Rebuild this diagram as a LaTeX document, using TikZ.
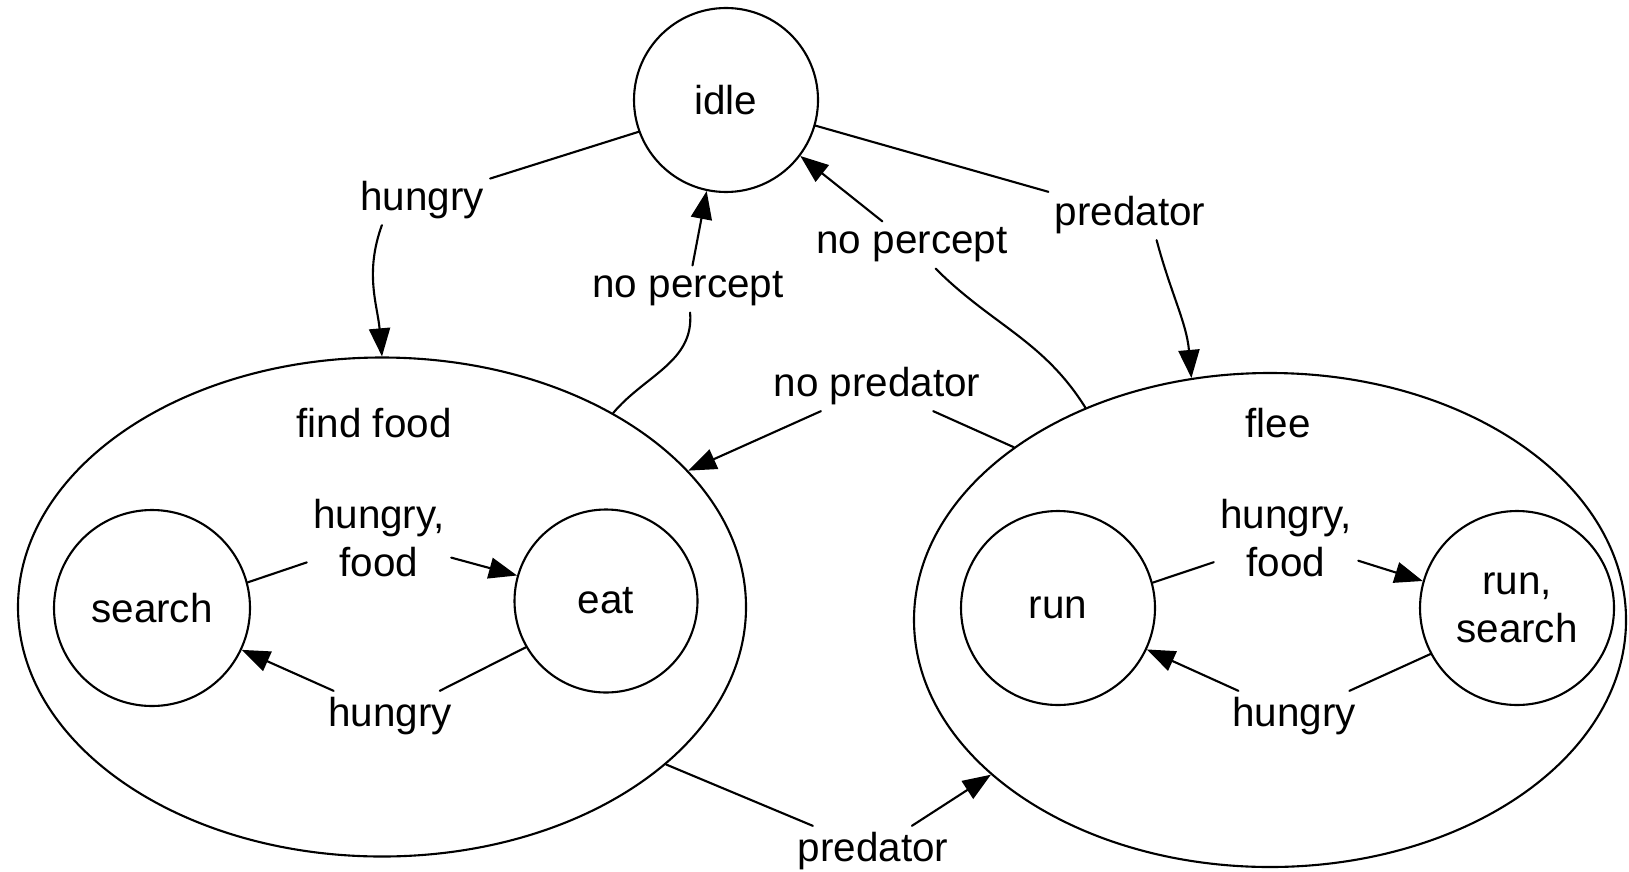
\documentclass[tikz,border=0pt]{standalone}
\usepackage{fontspec}
\setsansfont{Liberation Sans}
\usepackage{tikz}
\usetikzlibrary{arrows.meta, shapes.geometric, positioning}

\begin{document}
\begin{tikzpicture}[line cap=round,line join=round,>={Triangle[length=8pt,width=6pt]},x=1.0cm,y=1.0cm,line width=0.6pt]
\tikzstyle{every node}=[font=\fontsize{11.5}{13.5}\selectfont\sffamily]
\tikzstyle{state}=[draw,circle,inner sep=0pt,align=center]
\tikzstyle{superstate}=[draw,ellipse,inner sep=0pt]
\tikzstyle{lbl}=[inner sep=1.5pt,align=center]
\useasboundingbox (0,0) rectangle (16.29,8.71);
% states
\node[state,minimum size=1.84cm] (idle) at (7.26,7.71) {idle};
\node[superstate,minimum width=7.28cm,minimum height=4.99cm] (findfood) at (3.82,2.64) {};
\node[superstate,minimum width=7.12cm,minimum height=4.94cm] (flee) at (12.70,2.51) {};
\node (findfoodtitle) at (3.74,4.48) {find food};
\node (fleetitle) at (12.78,4.48) {flee};
\node[state,minimum size=1.96cm] (search) at (1.52,2.63) {search};
\node[state,minimum size=1.83cm] (eat) at (6.06,2.70) {eat};
\node[state,minimum size=1.94cm] (run) at (10.58,2.63) {run};
\node[state,minimum size=1.94cm] (runsearch) at (15.17,2.63) {run,\\search};
% transition labels
\node[lbl] (hungryA) at (4.22,6.71) {hungry};
\node[lbl] (noperceptA) at (6.88,5.82) {no percept};
\node[lbl] (noperceptB) at (9.12,6.26) {no percept};
\node[lbl] (predatorA) at (11.30,6.56) {predator};
\node[lbl] (nopredator) at (8.77,4.85) {no predator};
\node[lbl] (predatorB) at (8.73,0.20) {predator};
\node[lbl] (hungryfoodA) at (3.79,3.33) {hungry,\\food};
\node[lbl] (hungryB) at (3.90,1.55) {hungry};
\node[lbl] (hungryfoodB) at (12.86,3.33) {hungry,\\food};
\node[lbl] (hungryC) at (12.94,1.55) {hungry};
% top level
\draw (idle.200) -- (hungryA);
\draw[->] ([xshift=0.28cm]hungryA.south west) to[out=-110,in=95] (findfood.90);
\draw (findfood.40) to[out=50,in=-85] (noperceptA);
\draw[->] (noperceptA) -- (idle.258);
\draw (flee.131) to[out=122,in=-45] (noperceptB);
\draw[->] (noperceptB) -- (idle.-37);
\draw (idle.-16) -- (predatorA);
\draw[->] ([xshift=-0.55cm]predatorA.south east) to[out=-75,in=95] (flee.108);
\draw (flee.146) -- (nopredator);
\draw[->] (nopredator) -- (findfood.24);
\draw (findfood.-29) -- (predatorB);
\draw[->] (predatorB) -- (flee.209);
% inside find food
\draw (search.15) -- (hungryfoodA);
\draw[->] (hungryfoodA) -- (eat.164);
\draw (eat.210) -- (hungryB);
\draw[->] (hungryB) -- (search.-25);
% inside flee
\draw (run.15) -- (hungryfoodB);
\draw[->] (hungryfoodB) -- (runsearch.164);
\draw (runsearch.208) -- (hungryC);
\draw[->] (hungryC) -- (run.-25);
\end{tikzpicture}
\end{document}
